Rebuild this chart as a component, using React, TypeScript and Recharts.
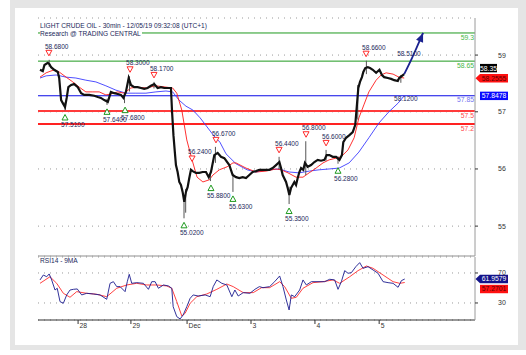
import React from 'react'
import { ComposedChart, Line, XAxis, YAxis, CartesianGrid, ReferenceLine, ReferenceDot, Scatter } from 'recharts'

const FONT = '"Liberation Sans", Arial, sans-serif'
const INK = '#22285a'

// x = trading hours since the first 30min bar on screen
const X_DOMAIN: [number, number] = [-0.72, 156.47]
const PRICE_DOMAIN: [number, number] = [54.15, 59.646]
const RSI_DOMAIN: [number, number] = [7.3, 91.3]

const dateTicks = [13.7, 32.7, 52.9, 75.9, 98.9, 122.0]
const dateLabels = ['28', '29', 'Dec', '3', '4', '5']

const priceTicks = [58.79, 57.48, 56.16, 54.84]
const priceTickLabels = ['59', '57', '56', '55']
const rsiTicks = [30, 50, 70]
const rsiTickLabels = ['30', '', '70']

// close of the 30min bars [x, price]
const closes: [number, number][] = [
  [0, 58.45], [1.0, 58.42], [1.6, 58.56], [2.8, 58.61], [3.4, 58.58], [4.0, 58.51], [5.1, 58.45],
  [6.4, 58.40], [6.9, 58.26], [7.6, 57.75], [8.2, 57.68], [9.0, 57.59], [9.6, 57.80], [10.2, 58.05],
  [11.2, 58.10], [12.3, 58.12], [13.6, 58.05], [14.8, 57.91], [15.9, 57.87], [17.7, 57.87], [19.5, 57.85],
  [20.8, 57.82], [21.9, 57.80], [23.1, 57.75], [24.4, 57.71], [25.5, 57.94], [26.7, 57.91], [28.0, 57.89],
  [29.1, 57.87], [30.0, 57.80], [30.9, 57.94], [31.9, 58.26], [32.7, 58.10], [33.9, 58.05], [35.1, 58.05],
  [36.3, 58.03], [37.5, 58.01], [38.7, 58.03], [39.9, 58.08], [41.1, 58.12], [42.3, 58.03], [43.5, 58.05],
  [44.7, 58.03], [45.9, 58.03], [47.1, 58.03], [47.5, 57.48], [48.0, 56.94], [48.5, 56.55], [48.9, 56.25],
  [49.5, 56.09], [50.1, 55.86], [50.7, 55.79], [51.3, 55.63], [51.9, 55.40], [52.5, 55.63], [53.1, 55.74],
  [53.7, 55.95], [54.3, 56.14], [54.9, 56.11], [56.1, 56.07], [57.3, 56.07], [58.5, 56.09], [59.7, 56.09],
  [60.7, 55.97], [61.5, 56.09], [62.7, 56.48], [63.9, 56.53], [65.1, 56.44], [66.3, 56.41], [68.1, 56.25],
  [69.3, 56.02], [70.5, 55.97], [71.7, 55.95], [72.9, 55.97], [74.1, 55.95], [75.3, 56.02], [76.5, 56.09],
  [77.7, 56.11], [78.9, 56.14], [80.1, 56.14], [81.3, 56.14], [82.5, 56.14], [83.7, 56.18], [84.9, 56.25],
  [86.1, 56.32], [86.7, 56.18], [87.3, 56.02], [88.5, 55.86], [89.1, 55.72], [89.7, 55.56], [90.3, 55.72],
  [90.9, 55.79], [91.5, 55.86], [92.1, 55.79], [92.7, 55.95], [93.3, 56.09], [93.9, 56.18], [94.7, 56.14],
  [95.3, 56.30], [96.3, 56.21], [97.5, 56.25], [98.7, 56.32], [99.9, 56.37], [101.1, 56.35], [102.3, 56.37],
  [103.1, 56.48], [104.1, 56.48], [105.3, 56.44], [106.5, 56.44], [107.7, 56.37], [108.6, 56.48], [109.1, 56.78],
  [110.1, 56.88], [111.3, 56.94], [112.5, 57.01], [113.4, 57.18], [114.0, 57.64], [114.5, 58.03], [115.1, 58.17],
  [115.8, 58.28], [116.3, 58.40], [117.0, 58.49], [117.9, 58.51], [118.7, 58.49], [119.7, 58.45], [120.9, 58.38],
  [122.1, 58.45], [123.0, 58.33], [123.8, 58.28], [125.1, 58.26], [126.3, 58.24], [127.4, 58.21], [128.7, 58.19],
  [129.2, 58.26], [130.2, 58.31], [131.0, 58.35],
]

// [x, low, high] of the long-wicked bars
const wicks: [number, number, number][] = [
  [3.3, 58.52, 58.68], [9.0, 57.51, 57.70], [24.1, 57.64, 57.78], [30.4, 57.68, 57.85], [32.2, 57.95, 58.30],
  [41.0, 58.02, 58.17], [51.8, 55.02, 55.55], [52.4, 55.15, 55.70], [61.3, 55.88, 56.12], [63.1, 56.30, 56.67],
  [69.4, 55.63, 56.05], [86.0, 56.15, 56.44], [89.6, 55.35, 55.75], [95.6, 56.02, 56.80], [102.9, 56.35, 56.60],
  [107.2, 56.28, 56.45], [114.3, 57.30, 58.10], [117.4, 58.35, 58.66], [129.8, 58.15, 58.33],
]

const fastMa: [number, number][] = [
  [0, 58.28], [2.2, 58.38], [5.1, 58.45], [6.9, 58.40], [9.4, 58.28], [11.8, 58.17], [14.1, 58.05], [16.5, 57.94],
  [19.0, 57.94], [21.3, 57.94], [23.7, 57.87], [25.5, 57.89], [27.9, 57.94], [30.3, 57.91], [32.7, 58.03],
  [35.1, 58.05], [38.1, 58.03], [41.7, 58.08], [45.3, 58.05], [47.7, 58.03], [49.2, 57.91], [51.0, 57.52],
  [52.8, 56.83], [54.7, 56.37], [56.5, 55.97], [58.6, 55.86], [60.9, 55.91], [62.2, 56.02], [64.5, 56.14],
  [67.3, 56.21], [69.4, 56.30], [70.5, 56.30], [74.1, 56.18], [77.7, 56.09], [81.3, 56.11], [84.9, 56.16],
  [86.7, 56.14], [89.2, 56.07], [92.1, 55.97], [94.6, 55.97], [96.8, 56.07], [99.3, 56.18], [101.8, 56.30],
  [104.0, 56.37], [106.5, 56.41], [108.3, 56.44], [110.8, 56.60], [113.0, 56.88], [114.7, 57.34], [116.5, 57.64],
  [118.3, 57.94], [120.9, 58.21], [122.7, 58.33], [124.5, 58.38], [127.0, 58.35], [129.1, 58.28], [131.0, 58.26],
]

const slowMa: [number, number][] = [
  [0, 58.26], [2.2, 58.31], [5.8, 58.33], [9.4, 58.28], [12.9, 58.26], [16.5, 58.21], [20.1, 58.17], [23.7, 58.08],
  [27.3, 57.98], [30.9, 57.91], [34.5, 57.91], [38.1, 57.91], [41.7, 57.94], [45.3, 57.96], [47.7, 57.94],
  [50.0, 57.75], [52.5, 57.61], [55.0, 57.52], [57.6, 57.34], [60.1, 57.13], [62.6, 56.92], [64.7, 56.78],
  [66.9, 56.51], [70.5, 56.28], [74.5, 56.14], [77.7, 56.09], [82.4, 56.14], [86.0, 56.16], [89.6, 56.09],
  [93.2, 56.07], [96.8, 56.11], [100.4, 56.14], [104.0, 56.16], [107.6, 56.18], [111.2, 56.30], [114.7, 56.55],
  [118.3, 56.88], [121.9, 57.22], [125.5, 57.48], [128.8, 57.68], [131.0, 57.85],
]

const rsi: [number, number][] = [
  [0, 60.7], [1.2, 67.3], [2.4, 65], [3.3, 68.7], [4.2, 60.7], [5.4, 47.3], [6.2, 49.6], [7.2, 31.8], [8.4, 29.6],
  [9.6, 40.7], [10.8, 47.3], [12.0, 48.2], [13.4, 48.7], [15.0, 40.7], [16.8, 42.9], [19.2, 42], [21.6, 40.7],
  [24.0, 34.9], [25.2, 56.2], [26.4, 58.4], [27.6, 51.8], [28.8, 51.8], [30.6, 45.1], [31.4, 58.4], [32.1, 68.2],
  [33.0, 56.2], [34.8, 57.1], [37.2, 56.2], [39.0, 48.2], [40.2, 58.4], [41.4, 58.4], [42.6, 49.6], [44.4, 54],
  [46.2, 52.7], [47.4, 49.6], [47.9, 25.1], [49.2, 11.8], [50.4, 8.7], [51.5, 14], [52.8, 25.1], [54.0, 36.2],
  [55.1, 40.7], [56.9, 39.3], [59.4, 40.7], [61.2, 38.4], [62.3, 51.8], [63.6, 60.7], [65.4, 56.2], [67.2, 54],
  [69.0, 38.4], [70.1, 47.3], [71.3, 39.3], [73.1, 43.8], [75.5, 42.9], [77.3, 48.2], [78.9, 51.8], [80.2, 50.4],
  [82.6, 51.8], [84.4, 58.4], [86.2, 66], [87.4, 51.8], [88.6, 34], [89.6, 20.7], [90.4, 40.7], [91.6, 38.4],
  [93.4, 47.3], [94.6, 60.7], [95.8, 54], [97.6, 58.4], [100.0, 58.4], [102.4, 58.4], [104.2, 61.6], [106.0, 60.7],
  [107.2, 48.2], [108.4, 58.4], [109.6, 73.1], [110.8, 69.6], [112.0, 70.4], [113.6, 78.4], [115.0, 83.8],
  [116.2, 76.2], [118.0, 78.4], [119.8, 74], [121.6, 69.6], [123.4, 58.4], [125.2, 57.1], [127.0, 56.2],
  [128.8, 50.9], [130.0, 59.8], [131.2, 61.96],
]

const rsiMa: [number, number][] = [
  [0, 56.2], [3.6, 65], [6.0, 56.2], [8.4, 42.9], [10.8, 37.6], [13.2, 45.1], [16.8, 42.9], [20.4, 41.6],
  [24.0, 38.4], [27.6, 49.6], [31.2, 54], [34.8, 56.2], [38.4, 54], [42.0, 54], [45.6, 52.7], [47.4, 49.6],
  [49.2, 31.8], [51.0, 12.7], [52.2, 16.2], [54.0, 29.6], [56.4, 38.4], [60.0, 42], [63.6, 48.2], [67.2, 55.3],
  [69.5, 51.8], [73.1, 43.8], [76.7, 43.8], [79.7, 50.4], [82.6, 50.4], [86.2, 58.4], [88.0, 51.8], [90.4, 36.2],
  [92.2, 37.6], [94.6, 49.6], [98.2, 57.1], [101.8, 58.4], [105.4, 60.7], [107.8, 56.2], [111.4, 65],
  [114.4, 73.1], [117.4, 79.3], [119.8, 76.2], [123.4, 67.3], [127.0, 58.4], [129.4, 56.2], [131.2, 57.3],
]

const pivotHighs: [number, number][] = [
  [3.2, 58.68], [32.4, 58.30], [41.0, 58.17], [54.7, 56.24], [63.3, 56.67], [86.0, 56.44], [95.7, 56.80],
  [102.9, 56.60], [117.3, 58.66],
]
const pivotLows: [number, number][] = [
  [9.0, 57.51], [24.1, 57.64], [30.6, 57.68], [51.8, 55.02], [61.5, 55.88], [69.4, 55.63], [89.6, 55.35],
  [107.2, 56.28],
]
const targetsAbove: [number, number][] = [[129.9, 58.51]]
const targetsBelow: [number, number][] = [[128.8, 58.12]]

const projection: [number, number][] = [[131.0, 58.35], [133.8, 58.72], [135.6, 58.98], [137.8, 59.3]]

const levels = [59.3, 58.65, 57.85, 57.5, 57.2]
const levelStyles = [
  { line: '#1f9a1f', text: '#46b846', w: 1 },
  { line: '#1f9a1f', text: '#46b846', w: 1 },
  { line: '#0a0ae6', text: '#7474f0', w: 1.2 },
  { line: '#ff3b3b', text: '#ff4a4a', w: 2 },
  { line: '#ff2222', text: '#ff4a4a', w: 2 },
]

const lastClose = 58.35
const fastMaLast = 58.2555
const slowMaLast = 57.8478
const rsiLast = 61.9579
const rsiMaLast = 57.2701

const toPts = (arr: [number, number][]) => arr.map(([x, v]) => ({ x, v }))

const pivotPoints = [
  ...pivotHighs.map(([x, v]) => ({ x, v, kind: 'high' })),
  ...pivotLows.map(([x, v]) => ({ x, v, kind: 'low' })),
  ...targetsAbove.map(([x, v]) => ({ x, v, kind: 'tAbove' })),
  ...targetsBelow.map(([x, v]) => ({ x, v, kind: 'tBelow' })),
]

function PivotShape(props: any) {
  const { cx, cy, payload } = props
  const label = payload.v.toFixed(4)
  const txt = (y: number) => (
    <text x={cx - 4} y={y} fontSize={6.5} fontFamily={FONT} fill={INK}>{label}</text>
  )
  if (payload.kind === 'high') {
    return (
      <g>
        <polygon points={`${cx - 3},${cy - 9.5} ${cx + 3},${cy - 9.5} ${cx},${cy - 4}`} fill="#fff" stroke="#ff2a2a" strokeWidth={1} />
        {txt(cy - 11)}
      </g>
    )
  }
  if (payload.kind === 'low') {
    return (
      <g>
        <polygon points={`${cx - 3},${cy + 9.5} ${cx + 3},${cy + 9.5} ${cx},${cy + 4}`} fill="#fff" stroke="#1f9a1f" strokeWidth={1} />
        {txt(cy + 17)}
      </g>
    )
  }
  if (payload.kind === 'tAbove') return <g>{txt(cy - 11.5)}</g>
  return <g>{txt(cy + 16.5)}</g>
}

function LevelLabel(props: any) {
  const { viewBox, text, color } = props
  if (!viewBox) return null
  return (
    <text x={viewBox.x + viewBox.width - 1} y={viewBox.y + 6.7} textAnchor="end" fontSize={6.8} fontFamily={FONT} fill={color}>
      {text}
    </text>
  )
}

function Badge(props: any) {
  const { cx, cy, text, bg, fg, dy = 0, arrow = false, w = 28 } = props
  const y = cy + dy
  const shape = arrow
    ? <polygon points={`${cx + 0.5},${y} ${cx + 5},${y - 4.2} ${cx + 33},${y - 4.2} ${cx + 33},${y + 4.2} ${cx + 5},${y + 4.2}`} fill={bg} />
    : <rect x={cx + 5} y={y - 4.2} width={w} height={8.4} fill={bg} />
  return (
    <g>
      {shape}
      <text x={cx + 5 + (arrow ? 28 : w) / 2} y={y + 2.4} textAnchor="middle" fontSize={6.8} fontFamily={FONT} fill={fg}>{text}</text>
    </g>
  )
}

function ArrowHead(props: any) {
  const { cx, cy, index } = props
  if (index !== projection.length - 1) return <g key={`ah${index}`} />
  return (
    <polygon key="ahead" points="0,0 -9,-3.8 -9,3.8" fill="#1b2290" transform={`translate(${cx},${cy}) rotate(-67)`} />
  )
}

function PriceTick(props: any) {
  const { x, y, payload } = props
  const i = priceTicks.indexOf(payload.value)
  return <text x={x + 22} y={y + 2.5} textAnchor="middle" fontSize={7} fontFamily={FONT} fill="#333">{priceTickLabels[i]}</text>
}

function RsiTick(props: any) {
  const { x, y, payload } = props
  const i = rsiTicks.indexOf(payload.value)
  return <text x={x + 22} y={y + 2.5} textAnchor="middle" fontSize={7} fontFamily={FONT} fill="#333">{rsiTickLabels[i]}</text>
}

function DateTick(props: any) {
  const { x, y, payload } = props
  const i = dateTicks.indexOf(payload.value)
  return (
    <g>
      <line x1={x} y1={y} x2={x} y2={y + 4} stroke="#333" />
      <text x={x + 1.5} y={y + 8} fontSize={6.8} fontFamily={FONT} fill="#333">{dateLabels[i]}</text>
    </g>
  )
}

export default function App() {
  return (
    <div style={{ position: 'absolute', left: 0, top: 0, width: 526, height: 355, background: '#fff', fontFamily: FONT }}>
      <div style={{ position: 'absolute', left: 10, top: 0, width: 516, height: 350, background: '#e5e5e5' }} />
      <div style={{ position: 'absolute', left: 15, top: 8, width: 503, height: 337, background: '#fff' }} />

      <div style={{ position: 'absolute', left: 0, top: 0 }}>
        <ComposedChart width={526} height={262} margin={{ top: 18, right: 6, left: 38, bottom: 6 }}>
          <CartesianGrid vertical={false} strokeDasharray="1 5" stroke="#9a9a9a" />
          <XAxis type="number" dataKey="x" domain={X_DOMAIN} allowDataOverflow hide />
          <YAxis
            orientation="right"
            type="number"
            domain={PRICE_DOMAIN}
            allowDataOverflow
            ticks={priceTicks}
            width={45}
            axisLine={{ stroke: '#9a9a9a' }}
            tickLine={{ stroke: '#333' }}
            tickSize={3}
            tick={<PriceTick />}
          />
          <ReferenceLine y={PRICE_DOMAIN[0]} stroke="#b4b4b4" strokeWidth={1.5} />
          {levels.map((v, i) => (
            <ReferenceLine
              key={`lv${i}`}
              y={v}
              stroke={levelStyles[i].line}
              strokeWidth={levelStyles[i].w}
              label={<LevelLabel text={String(v)} color={levelStyles[i].text} />}
            />
          ))}
          <Line data={toPts(slowMa)} dataKey="v" stroke="#3b3bff" strokeWidth={0.9} dot={false} isAnimationActive={false} />
          <Line data={toPts(fastMa)} dataKey="v" stroke="#ff1a1a" strokeWidth={0.9} dot={false} isAnimationActive={false} />
          {wicks.map(([x, lo, hi], i) => (
            <Line
              key={`wk${i}`}
              data={[{ x, v: lo }, { x, v: hi }]}
              dataKey="v"
              stroke="#555"
              strokeWidth={1}
              dot={false}
              isAnimationActive={false}
            />
          ))}
          <Line data={toPts(closes)} dataKey="v" stroke="#111" strokeWidth={2.2} dot={false} isAnimationActive={false} />
          <Line data={toPts(projection)} dataKey="v" type="monotone" stroke="#1b2290" strokeWidth={1.8} dot={<ArrowHead />} isAnimationActive={false} />
          <Scatter data={pivotPoints} dataKey="v" shape={<PivotShape />} isAnimationActive={false} />
          <ReferenceDot x={X_DOMAIN[1]} y={lastClose} ifOverflow="visible" shape={(p: any) => <Badge cx={p.cx} cy={p.cy} text="58.35" bg="#000" fg="#fff" dy={-6} w={17} />} />
          <ReferenceDot x={X_DOMAIN[1]} y={fastMaLast} ifOverflow="visible" shape={(p: any) => <Badge cx={p.cx} cy={p.cy} text={String(fastMaLast)} bg="#ff1010" fg="#5a0000" arrow />} />
          <ReferenceDot x={X_DOMAIN[1]} y={slowMaLast} ifOverflow="visible" shape={(p: any) => <Badge cx={p.cx} cy={p.cy} text={String(slowMaLast)} bg="#0a0aff" fg="#fff" />} />
        </ComposedChart>
      </div>

      <div style={{ position: 'absolute', left: 0, top: 256 }}>
        <ComposedChart width={526} height={80} margin={{ top: 1, right: 6, left: 38, bottom: 2 }}>
          <CartesianGrid vertical={false} strokeDasharray="1 5" stroke="#9a9a9a" />
          <XAxis
            type="number"
            dataKey="x"
            domain={X_DOMAIN}
            allowDataOverflow
            ticks={dateTicks}
            interval={0}
            height={14}
            axisLine={{ stroke: '#333', strokeWidth: 1.2 }}
            tickLine={false}
            tickSize={0}
            tickMargin={0}
            tick={<DateTick />}
          />
          <YAxis
            orientation="right"
            type="number"
            domain={RSI_DOMAIN}
            allowDataOverflow
            ticks={rsiTicks}
            width={45}
            axisLine={{ stroke: '#9a9a9a' }}
            tickLine={{ stroke: '#333' }}
            tickSize={3}
            tick={<RsiTick />}
          />
          <Line data={toPts(rsiMa)} dataKey="v" stroke="#ff2b2b" strokeWidth={0.9} dot={false} isAnimationActive={false} />
          <Line data={toPts(rsi)} dataKey="v" stroke="#1b1b8f" strokeWidth={0.9} dot={false} isAnimationActive={false} />
          <ReferenceDot x={X_DOMAIN[1]} y={rsiLast} ifOverflow="visible" shape={(p: any) => <Badge cx={p.cx} cy={p.cy} text={String(rsiLast)} bg="#14148a" fg="#fff" arrow />} />
          <ReferenceDot x={X_DOMAIN[1]} y={rsiMaLast} ifOverflow="visible" shape={(p: any) => <Badge cx={p.cx} cy={p.cy} text={String(rsiMaLast)} bg="#ff1010" fg="#5a0000" dy={6.5} />} />
        </ComposedChart>
      </div>

      <div style={{ position: 'absolute', left: 40, top: 22, fontSize: 6.6, lineHeight: '8px', color: INK, whiteSpace: 'nowrap' }}>
        LIGHT CRUDE OIL - 30min - 12/05/19 09:32:08 (UTC+1)
      </div>
      <div style={{ position: 'absolute', left: 40, top: 30, fontSize: 6.6, lineHeight: '8px', color: INK, background: '#fff', paddingRight: 1, whiteSpace: 'nowrap' }}>
        Research @ TRADING CENTRAL
      </div>
      <div style={{ position: 'absolute', left: 40, top: 257, fontSize: 6.6, lineHeight: '7px', color: INK, whiteSpace: 'nowrap' }}>
        RSI14 - 9MA
      </div>
    </div>
  )
}
